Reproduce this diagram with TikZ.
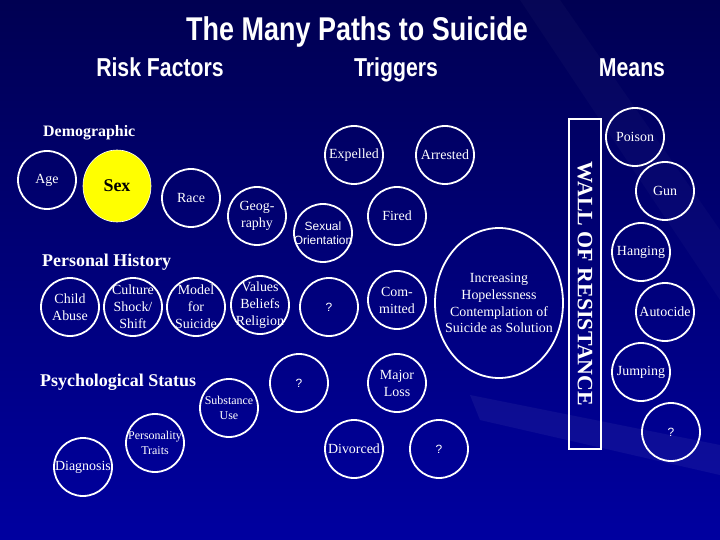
\documentclass[tikz,border=0pt]{standalone}
\usepackage{fontspec}
\setmainfont{Liberation Serif}
\newfontfamily\headfont[FakeStretch=0.82]{Liberation Sans}
\newfontfamily\lblsans{Liberation Sans}
\usetikzlibrary{positioning, shapes.geometric}
\definecolor{bgtop}{RGB}{0,0,82}
\definecolor{bgmid}{RGB}{8,8,150}
\definecolor{bgbot}{RGB}{0,0,160}
\definecolor{sexyellow}{HTML}{FFFF00}

\begin{document}
\begin{tikzpicture}[
    x=1bp, y=-1bp,
    ring/.style={circle, draw=white, line width=1.8bp, minimum size=58bp, inner sep=0pt},
    lbl/.style={text=white, font=\fontsize{14}{17}\selectfont, align=center, inner sep=0pt},
    smalllbl/.style={text=white, font=\fontsize{12}{15}\selectfont, align=center, inner sep=0pt},
    sanslbl/.style={text=white, font=\lblsans\fontsize{12}{14}\selectfont, align=center, inner sep=0pt},
    heading/.style={text=white, font=\headfont\bfseries\fontsize{26}{28}\selectfont, anchor=base},
    group/.style={text=white, font=\bfseries\fontsize{18}{20}\selectfont, anchor=west, inner sep=0pt}
]

% ==================== BACKGROUND ====================
\useasboundingbox (0,0) rectangle (720,540);
\shade[top color=bgtop, middle color=bgmid, bottom color=bgbot] (0,0) rectangle (720,540);
\fill[white, opacity=0.05] (470,395) -- (720,445) -- (720,475) -- (480,420) -- cycle;
\fill[white, opacity=0.025] (560,0) -- (720,230) -- (720,300) -- (520,0) -- cycle;

% ==================== TITLES ====================
\node[heading, font=\headfont\bfseries\fontsize{33}{35}\selectfont] (title) at (357,41) {The Many Paths to Suicide};
\node[heading] (risk) at (160,77) {Risk Factors};
\node[heading] (trig) at (396,77) {Triggers};
\node[heading] (means) at (632,77) {Means};

% ==================== RISK FACTORS ====================
\node[group, font=\bfseries\fontsize{16}{18}\selectfont] (demo) at (43,133) {Demographic};
\node[ring, label={[lbl]center:Age}] (age) at (47,180) {};
\node[ellipse, fill=sexyellow, draw=white, line width=0.6bp, minimum width=68bp, minimum height=72bp,
      label={[font=\bfseries\fontsize{18}{20}\selectfont]center:Sex}] (sex) at (117,186) {};
\node[ring, label={[lbl]center:Race}] (race) at (191,198) {};
\node[ring, label={[lbl]center:{Geog-\\raphy}}] (geo) at (257,216) {};
\node[ring, label={[sanslbl]center:{Sexual\\Orientation}}] (sexor) at (323,233) {};

\node[group] (perhist) at (42,262) {Personal History};
\node[ring, label={[lbl]center:{Child\\Abuse}}] (abuse) at (70,307) {};
\node[ring, label={[lbl]center:{Culture\\Shock/\\Shift}}] (culture) at (133,307) {};
\node[ring, label={[lbl]center:{Model\\for\\Suicide}}] (model) at (196,307) {};
\node[ring, label={[lbl]center:{Values\\Beliefs\\Religion}}] (values) at (260,305) {};
\node[ring, label={[sanslbl]center:?}] (qpers) at (329,307) {};

\node[group] (psych) at (40,382) {Psychological Status};
\node[ring, label={[sanslbl]center:?}] (qpsych) at (299,383) {};
\node[ring, label={[smalllbl]center:{Substance\\Use}}] (subst) at (229,408) {};
\node[ring, label={[smalllbl]center:{Personality\\Traits}}] (person) at (155,443) {};
\node[ring, label={[lbl]center:Diagnosis}] (diag) at (83,467) {};

% ==================== TRIGGERS ====================
\node[ring, label={[lbl]center:Expelled}] (expel) at (354,155) {};
\node[ring, label={[lbl]center:Arrested}] (arrest) at (445,155) {};
\node[ring, label={[lbl]center:Fired}] (fired) at (397,216) {};
\node[ring, label={[lbl]center:{Com-\\mitted}}] (commit) at (397,300) {};
\node[ring, label={[lbl]center:{Major\\Loss}}] (loss) at (397,383) {};
\node[ring, label={[lbl]center:Divorced}] (divorce) at (354,449) {};
\node[ring, label={[sanslbl]center:?}] (qtrig) at (439,449) {};
\node[ellipse, draw=white, line width=1.8bp, minimum width=128bp, minimum height=150bp, inner sep=0pt,
      label={[lbl]center:{Increasing\\Hopelessness\\Contemplation of\\Suicide as Solution}}] (hope) at (499,303) {};

% ==================== WALL ====================
\node[draw=white, line width=1.8bp, rotate=-90, minimum width=330bp, minimum height=32bp, inner sep=0pt,
      text=white, font=\bfseries\fontsize{22}{23}\selectfont] (wall) at (585,284) {WALL OF RESISTANCE};

% ==================== MEANS ====================
\node[ring, label={[lbl]center:Poison}] (poison) at (635,137) {};
\node[ring, label={[lbl]center:Gun}] (gun) at (665,191) {};
\node[ring, label={[lbl]center:Hanging}] (hang) at (641,252) {};
\node[ring, label={[lbl]center:Autocide}] (autocide) at (665,312) {};
\node[ring, label={[lbl]center:Jumping}] (jump) at (641,372) {};
\node[ring, label={[sanslbl]center:?}] (qmeans) at (671,432) {};

\end{tikzpicture}
\end{document}
